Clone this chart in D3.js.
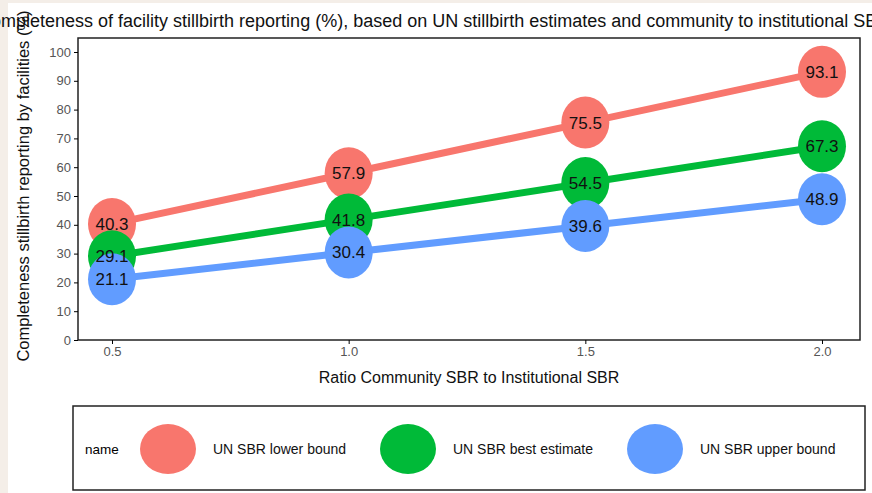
<!DOCTYPE html>
<html><head><meta charset="utf-8">
<script src="https://cdn.jsdelivr.net/npm/d3@7"></script>
<style>body{margin:0;background:#f4eee8;font-family:"Liberation Sans",Arial,sans-serif;}</style>
</head><body><svg id="c" width="872" height="493"></svg>
<script>
var ratios = [0.5, 1.0, 1.5, 2.0];
var seriesNames = ["UN SBR lower bound", "UN SBR best estimate", "UN SBR upper bound"];
var lowerBound = [40.3, 57.9, 75.5, 93.1];
var bestEstimate = [29.1, 41.8, 54.5, 67.3];
var upperBound = [21.1, 30.4, 39.6, 48.9];
var yTicks = [0, 10, 20, 30, 40, 50, 60, 70, 80, 90, 100];
var colors = ["#f8766d", "#00ba38", "#619cff"];
var allSeries = [lowerBound, bestEstimate, upperBound];

var svg = d3.select("#c");
svg.append("rect").attr("x", 8).attr("y", 3).attr("width", 864).attr("height", 490).attr("fill", "#fff");

var x = d3.scaleLinear().domain([0.5, 2.0]).range([112, 822]);
var y = d3.scaleLinear().domain([0, 100]).range([340, 52]);

// panel
svg.append("rect").attr("x", 78).attr("y", 38).attr("width", 782).attr("height", 302)
	.attr("fill", "#fff").attr("stroke", "#222").attr("stroke-width", 1.5);

svg.append("g").attr("transform", "translate(78,0)")
	.call(d3.axisLeft(y).tickValues(yTicks).tickSize(4))
	.call(function(g){ g.select(".domain").remove(); g.selectAll("text").attr("fill", "#555").style("font-size", "13px"); });
svg.append("g").attr("transform", "translate(0,340)")
	.call(d3.axisBottom(x).tickValues(ratios).tickFormat(d3.format(".1f")).tickSize(4))
	.call(function(g){ g.select(".domain").remove(); g.selectAll("text").attr("fill", "#555").style("font-size", "13px"); });

var line = d3.line().x(function(d, i){ return x(ratios[i]); }).y(function(d){ return y(d); });
allSeries.forEach(function(s, k){
	svg.append("path").attr("d", line(s)).attr("fill", "none")
		.attr("stroke", colors[k]).attr("stroke-width", 7).attr("stroke-linecap", "round");
});
allSeries.forEach(function(s, k){
	svg.append("g").selectAll("ellipse").data(s).enter().append("ellipse")
		.attr("cx", function(d, i){ return x(ratios[i]); }).attr("cy", function(d){ return y(d); })
		.attr("rx", 24).attr("ry", 26).attr("fill", colors[k]);
});
allSeries.forEach(function(s, k){
	svg.append("g").selectAll("text").data(s).enter().append("text")
		.attr("x", function(d, i){ return x(ratios[i]); }).attr("y", function(d){ return y(d) + 6; })
		.attr("text-anchor", "middle").style("font-size", "17px").attr("fill", "#111")
		.text(function(d){ return d.toFixed(1); });
});

svg.append("text").attr("x", -22).attr("y", 27).style("font-size", "18px").attr("fill", "#111")
	.text("Completeness of facility stillbirth reporting (%), based on UN stillbirth estimates and community to institutional SBR ratio");
svg.append("text").attr("transform", "translate(29,186) rotate(-90)").attr("text-anchor", "middle")
	.style("font-size", "16.5px").attr("fill", "#111").text("Completeness stillbirth reporting by facilities (%)");
svg.append("text").attr("x", 469).attr("y", 383).attr("text-anchor", "middle")
	.style("font-size", "16px").attr("fill", "#111").text("Ratio Community SBR to Institutional SBR");

// legend
svg.append("rect").attr("x", 73).attr("y", 406).attr("width", 792).attr("height", 84)
	.attr("fill", "#fff").attr("stroke", "#222").attr("stroke-width", 1.5);
svg.append("text").attr("x", 85).attr("y", 454).style("font-size", "13.5px").text("name");
var lx = [168, 408, 655];
seriesNames.forEach(function(n, k){
	svg.append("ellipse").attr("cx", lx[k]).attr("cy", 449).attr("rx", 28).attr("ry", 25).attr("fill", colors[k]);
	svg.append("text").attr("x", lx[k] + 45).attr("y", 454).style("font-size", "14px").attr("fill", "#111").text(n);
});
</script></body></html>
